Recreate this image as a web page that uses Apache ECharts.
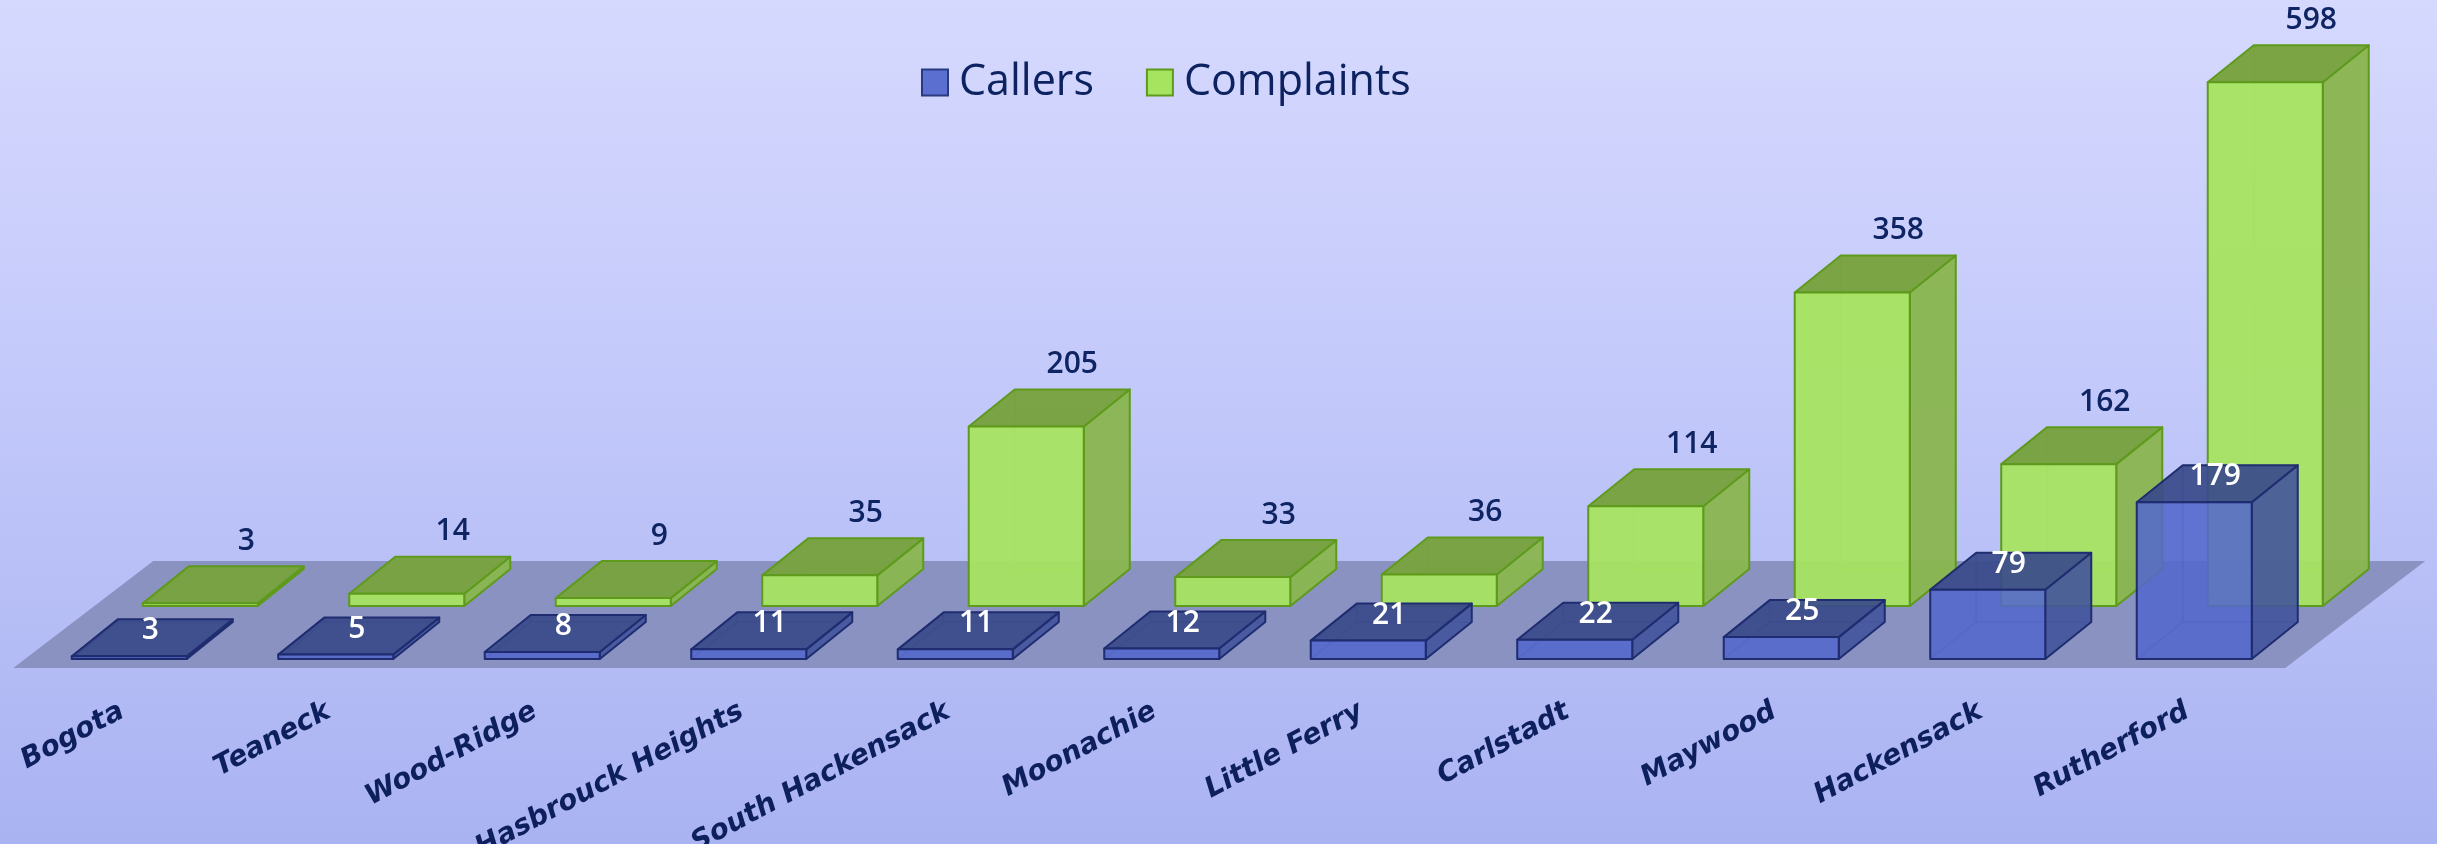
<!DOCTYPE html>
<html>
<head>
<meta charset="utf-8">
<script src="https://cdn.jsdelivr.net/npm/echarts@6/dist/echarts.min.js"></script>
<style>
html,body{margin:0;padding:0;width:2437px;height:844px;overflow:hidden;}
body{background:linear-gradient(to bottom,#d6d9fe 0%,#c3c9fa 45%,#aab3f2 100%);}
#chart{width:2437px;height:844px;}
</style>
</head>
<body>
<div id="chart"></div>
<script>
const categories = ['Bogota','Teaneck','Wood-Ridge','Hasbrouck Heights','South Hackensack','Moonachie','Little Ferry','Carlstadt','Maywood','Hackensack','Rutherford'];
const callers = [3,5,8,11,11,12,21,22,25,79,179];
const complaints = [3,14,9,35,205,33,36,114,358,162,598];

const DEPTH_X = 46, DEPTH_Y = 37;       // oblique depth of a box
const ROW_X = 71, ROW_Y = 53;           // back row shift
const BAR_RATIO = 0.557;

const styles = {
  Callers: {front:'rgba(84,104,204,0.88)', top:'rgba(58,74,138,0.92)', side:'rgba(66,84,156,0.9)', edge:'#1f2d70', hidden:'rgba(31,45,112,0.35)', label:'#ffffff'},
  Complaints: {front:'rgba(166,228,96,0.95)', top:'rgba(120,162,63,0.97)', side:'rgba(138,182,82,0.97)', edge:'#5e9a1c', hidden:'rgba(94,154,28,0.35)', label:'#0f2463'}
};

function boxRender(name, shiftX, shiftY){
  const st = styles[name];
  return function(params, api){
    const i = api.value(0), v = api.value(1);
    const base = api.coord([i, 0]);
    const top = api.coord([i, v]);
    const w = api.size([1, 0])[0] * BAR_RATIO;
    const x0 = base[0] - w/2 + shiftX, x1 = base[0] + w/2 + shiftX;
    const yb = base[1] + shiftY, yt = Math.min(top[1] + shiftY, yb - 1.5);
    const A=[x0,yb], B=[x1,yb], C=[x1,yt], D=[x0,yt];
    const o = p => [p[0]+DEPTH_X, p[1]-DEPTH_Y];
    const A2=o(A), B2=o(B), C2=o(C), D2=o(D);
    const lw = 2;
    const children = [
      {type:'line', shape:{x1:A2[0],y1:A2[1],x2:B2[0],y2:B2[1]}, style:{stroke:st.hidden,lineWidth:lw}},
      {type:'line', shape:{x1:A2[0],y1:A2[1],x2:D2[0],y2:D2[1]}, style:{stroke:st.hidden,lineWidth:lw}},
      {type:'line', shape:{x1:A2[0],y1:A2[1],x2:A[0],y2:A[1]}, style:{stroke:st.hidden,lineWidth:lw}},
      {type:'polygon', shape:{points:[B,B2,C2,C]}, style:{fill:st.side,stroke:st.edge,lineWidth:lw,lineJoin:'round'}},
      {type:'polygon', shape:{points:[D,C,C2,D2]}, style:{fill:st.top,stroke:st.edge,lineWidth:lw,lineJoin:'round'}},
      {type:'polygon', shape:{points:[A,B,C,D]}, style:{fill:st.front,stroke:st.edge,lineWidth:lw,lineJoin:'round'}}
    ];
    if (name === 'Complaints') {
      children.push({type:'text', style:{text:String(v), x:(D2[0]+C2[0])/2, y:D2[1]-25, align:'center', verticalAlign:'middle', fill:st.label, font:'600 30px "Open Sans", sans-serif'}});
    } else {
      children.push({type:'text', style:{text:String(v), x:(D[0]+C2[0])/2 - 2, y:(D[1]+C2[1])/2 - 7, align:'center', verticalAlign:'middle', fill:st.label, font:'600 30px "Open Sans", sans-serif'}});
    }
    return {type:'group', children};
  };
}

function floorRender(params, api){
  const first = api.coord([0, 0]);
  const last = api.coord([categories.length - 1, 0]);
  const yf = first[1] + 9;
  const fl = [first[0] - 116, yf], fr = [last[0] + 91, yf];
  const bl = [fl[0] + 140, yf - 107], br = [fr[0] + 140, yf - 107];
  return {type:'polygon', shape:{points:[fl, fr, br, bl]}, style:{fill:'#8a92c2'}};
}

const chart = echarts.init(document.getElementById('chart'));
chart.setOption({
  backgroundColor:'transparent',
  animation:false,
  legend:{
    data:['Callers','Complaints'],
    icon:'rect',
    left:916, top:56,
    itemWidth:26, itemHeight:26, itemGap:52,
    textStyle:{fontSize:43, color:'#0d2260', fontFamily:'"Open Sans", sans-serif', padding:[0,0,0,6]}
  },
  grid:{left:26, right:139.5, top:46, bottom:185, containLabel:false, outerBoundsMode:'none'},
  xAxis:{
    type:'category', data:categories,
    axisLine:{show:false}, axisTick:{show:false}, splitLine:{show:false},
    axisLabel:{interval:0, rotate:28, margin:47, padding:[0,8,0,0], hideOverlap:false,
      fontSize:28, fontWeight:'bold', fontStyle:'italic', color:'#0d1f5c', fontFamily:'"DejaVu Sans", sans-serif'}
  },
  yAxis:{type:'value', min:0, max:700, show:false, splitLine:{show:false}},
  series:[
    {type:'custom', name:'floor', renderItem:floorRender, data:[[0,0]], z:1, silent:true},
    {type:'custom', name:'Complaints', renderItem:boxRender('Complaints', ROW_X, -ROW_Y),
      data:complaints.map((v,i)=>[i,v]), z:2, itemStyle:{color:'#a6e460', borderColor:'#5e9a1c', borderWidth:2}},
    {type:'custom', name:'Callers', renderItem:boxRender('Callers', 0, 0),
      data:callers.map((v,i)=>[i,v]), z:3, itemStyle:{color:'#5a6fd0', borderColor:'#2a3a80', borderWidth:2}}
  ]
});
</script>
</body>
</html>
